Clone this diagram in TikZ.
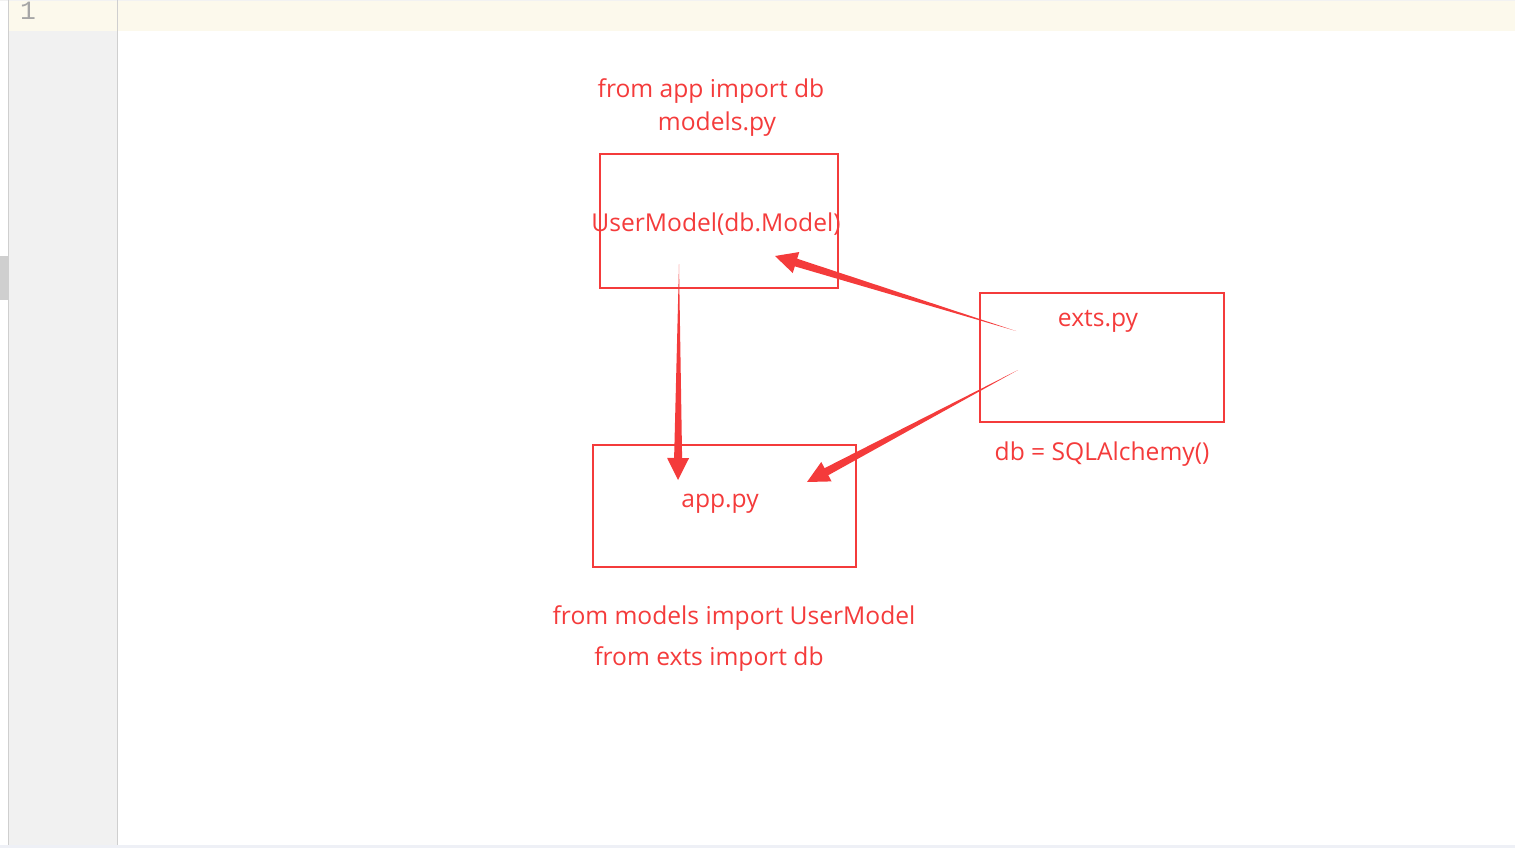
\documentclass[tikz,border=0pt]{standalone}
\usepackage{fontspec}
\setmainfont{Open Sans}
\newfontfamily\gutterfont{Liberation Mono}
\usetikzlibrary{calc}

\definecolor{inkred}{HTML}{F43B3B}
\definecolor{gutterbg}{HTML}{F1F1F1}
\definecolor{gutterline}{HTML}{CFCFCF}
\definecolor{linebg}{HTML}{FCF9EC}
\definecolor{basebar}{HTML}{EEF0F6}

% tapered pen stroke ending in a head
\newcommand{\taperarrow}[2]{%
  \coordinate (hb) at ($(#2)!0.44cm!(#1)$);
  \fill[inkred] (#1) -- ($(hb)!0.08cm!90:(#2)$) -- ($(hb)!0.22cm!90:(#2)$)
    -- (#2) -- ($(hb)!0.22cm!-90:(#2)$) -- ($(hb)!0.08cm!-90:(#2)$) -- cycle;
}

\begin{document}
\begin{tikzpicture}[x=0.02cm, y=-0.02cm,
  font=\fontsize{14}{16}\selectfont,
  label/.style={text=inkred, inner sep=0},
  filebox/.style={draw=inkred, line width=1.6pt}]

\useasboundingbox (0,0) rectangle (1515,848);

% --- Editor frame ---
\fill[linebg] (9,1) rectangle (1515,31);
\fill[gutterbg] (9,31) rectangle (117,845);
\fill[basebar] (0,845) rectangle (1515,848);
\fill[gray!10] (0,0) rectangle (1515,1);
\fill[gutterline] (0,256) rectangle (8,300);
\draw[gutterline, line width=0.6pt] (8.5,0) -- (8.5,845);
\draw[gutterline, line width=0.6pt] (117.5,0) -- (117.5,845);
\node[text=gray!70, inner sep=0, anchor=base, font=\gutterfont\fontsize{15}{16}\selectfont] (lineno) at (28,20) {1};

% --- Files ---
\node[filebox, minimum width=238*0.02cm, minimum height=134*0.02cm] (models) at (719,221) {};
\node[filebox, minimum width=244*0.02cm, minimum height=129*0.02cm] (exts) at (1102,357.5) {};
\node[filebox, minimum width=263*0.02cm, minimum height=122*0.02cm] (app) at (724.5,506) {};

% --- Texts ---
\node[label] (modimp) at (711,91) {from app import db};
\node[label] (modname) at (717,124) {models.py};
\node[label] (modcls) at (716,224) {UserModel(db.Model)};
\node[label] (extname) at (1098,321) {exts.py};
\node[label] (extdb) at (1102,454) {db = SQLAlchemy()};
\node[label] (appname) at (720,504) {app.py};
\node[label] (appimpa) at (734,618) {from models import UserModel};
\node[label] (appimpb) at (709,659) {from exts import db};

% --- Imports ---
\coordinate (extsA) at (1016,331);
\coordinate (extsB) at (1018,370);
\coordinate (modsA) at (679,264);
\coordinate (tipM) at (775,256);
\coordinate (tipA) at (807,482);
\coordinate (tipB) at (678,480);
\taperarrow{extsA}{tipM}
\taperarrow{extsB}{tipA}
\taperarrow{modsA}{tipB}

\end{tikzpicture}
\end{document}
